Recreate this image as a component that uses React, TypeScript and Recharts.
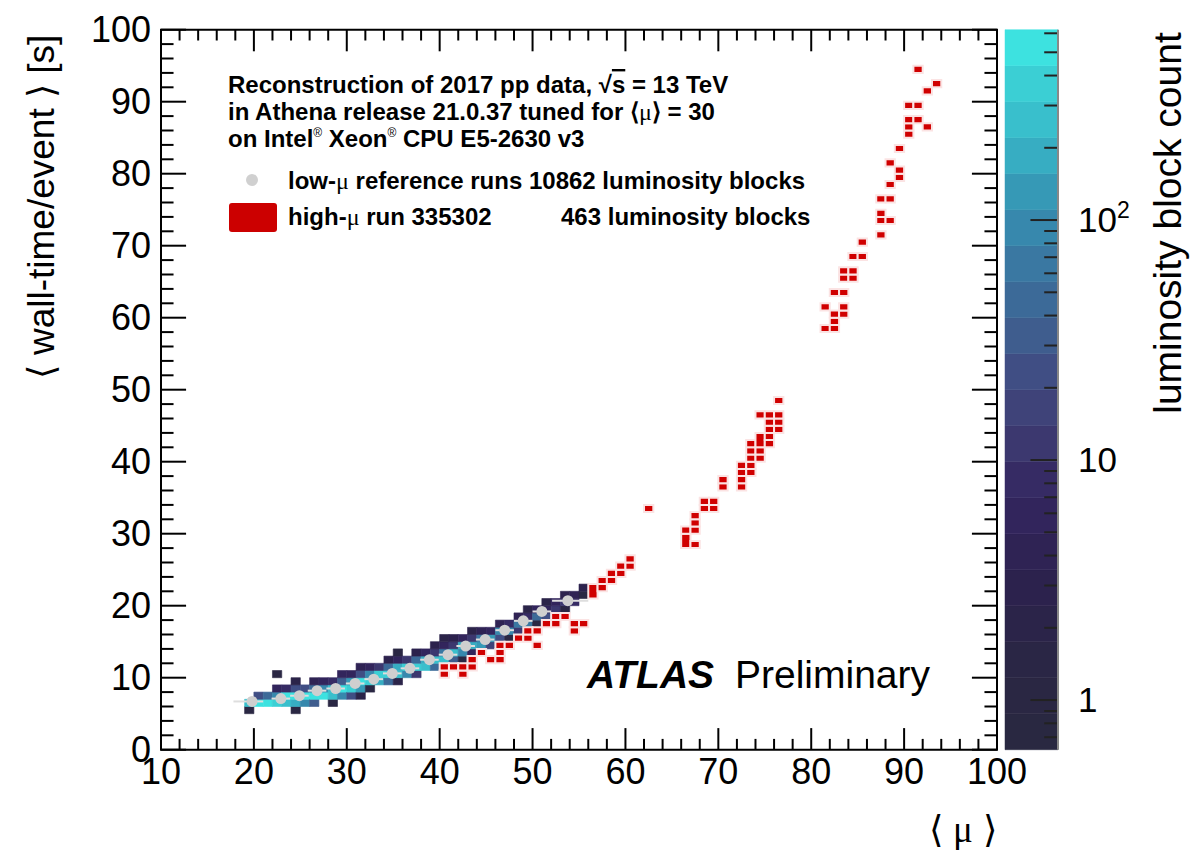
import React from 'react';
import { ComposedChart, Scatter, XAxis, YAxis, ReferenceArea, ReferenceLine, ErrorBar } from 'recharts';

const FONT = '"Liberation Sans", Arial, Helvetica, sans-serif';
const SERIF = '"Liberation Serif", "Times New Roman", serif';
const W = 1194;
const H = 852;

// ---------- axes ----------
const X_TICKS = [10, 20, 30, 40, 50, 60, 70, 80, 90, 100];
const Y_TICKS = [0, 10, 20, 30, 40, 50, 60, 70, 80, 90, 100];
const X_MINOR = [12, 14, 16, 18, 22, 24, 26, 28, 32, 34, 36, 38, 42, 44, 46, 48, 52, 54, 56, 58, 62, 64, 66, 68, 72, 74, 76, 78, 82, 84, 86, 88, 92, 94, 96, 98];
const Y_MINOR = [2, 4, 6, 8, 12, 14, 16, 18, 22, 24, 26, 28, 32, 34, 36, 38, 42, 44, 46, 48, 52, 54, 56, 58, 62, 64, 66, 68, 72, 74, 76, 78, 82, 84, 86, 88, 92, 94, 96, 98];

// ---------- colour axis ----------
const Z_MIN = 0.621;
const Z_MAX = 621;
const Z_TICKS = [1, 10, 100];
const Z_TICK_LABELS = ['1', '10', '10²'];
const Z_MINOR = [0.7, 0.8, 0.9, 2, 3, 4, 5, 6, 7, 8, 9, 20, 30, 40, 50, 60, 70, 80, 90, 200, 300, 400, 500, 600];
// palette bands, bottom (low count) -> top (high count)
const PALETTE = [
  '#292841', '#2a2743', '#2a2645', '#2b2449', '#2c224d', '#2f2354', '#32255c', '#362b64', '#3c386f', '#3f4379',
  '#404e84', '#3f5d8e', '#3c6a98', '#3a78a2', '#3788ad', '#3699b6', '#37adc2', '#39bfcc', '#3bcfd4', '#3de2e0',
];

// ---------- low-mu reference runs: 2D histogram [<mu> bin, time bin, luminosity-block count] ----------
const LOW_MU_CELLS: [number, number, number][] = [
  [19, 5, 1], [19, 6, 300],
  [20, 6, 500], [20, 7, 20],
  [21, 6, 500], [21, 7, 40],
  [22, 6, 400], [22, 7, 80], [22, 8, 6], [22, 10, 1],
  [23, 6, 250], [23, 7, 450], [23, 8, 8],
  [24, 5, 1], [24, 6, 200], [24, 7, 450], [24, 8, 25], [24, 9, 2],
  [25, 6, 80], [25, 7, 500], [25, 8, 20],
  [26, 6, 30], [26, 7, 450], [26, 8, 50], [26, 9, 4],
  [27, 7, 450], [27, 8, 100], [27, 9, 6],
  [28, 6, 1], [28, 7, 250], [28, 8, 250], [28, 9, 8],
  [29, 7, 80], [29, 8, 500], [29, 9, 30], [29, 10, 5],
  [30, 7, 20], [30, 8, 400], [30, 9, 120], [30, 10, 6],
  [31, 7, 2], [31, 8, 150], [31, 9, 450], [31, 10, 25], [31, 11, 4],
  [32, 8, 1], [32, 9, 400], [32, 10, 80], [32, 11, 6],
  [33, 9, 200], [33, 10, 350], [33, 11, 10],
  [34, 9, 40], [34, 10, 400], [34, 11, 40], [34, 12, 3],
  [35, 9, 2], [35, 10, 250], [35, 11, 200], [35, 12, 6], [35, 13, 1],
  [36, 10, 100], [36, 11, 350], [36, 12, 10],
  [37, 10, 12], [37, 11, 400], [37, 12, 40], [37, 13, 3],
  [38, 11, 250], [38, 12, 180], [38, 13, 5],
  [39, 11, 50], [39, 12, 300], [39, 13, 12], [39, 14, 3],
  [40, 12, 250], [40, 13, 70], [40, 14, 6], [40, 15, 2],
  [41, 12, 30], [41, 13, 250], [41, 14, 12], [41, 15, 3],
  [42, 12, 1], [42, 13, 100], [42, 14, 180], [42, 15, 6],
  [43, 13, 5], [43, 14, 200], [43, 15, 10], [43, 16, 2],
  [44, 14, 120], [44, 15, 70], [44, 16, 4],
  [45, 14, 15], [45, 15, 150], [45, 16, 6],
  [46, 15, 25], [46, 16, 90], [46, 17, 4],
  [47, 15, 1], [47, 16, 100], [47, 17, 7],
  [48, 16, 12], [48, 17, 60], [48, 18, 4],
  [49, 16, 1], [49, 17, 70], [49, 18, 8], [49, 19, 2],
  [50, 17, 1], [50, 18, 40], [50, 19, 5],
  [51, 18, 25], [51, 19, 6], [51, 20, 2],
  [52, 19, 12], [52, 20, 5],
  [53, 19, 1], [53, 20, 12], [53, 21, 3],
  [54, 20, 8], [54, 21, 4],
  [55, 21, 1], [55, 22, 3],
];

// ---------- high-mu run 335302: filled bins [<mu> bin, first time bin, number of time bins] ----------
const HIGH_MU_CELLS: [number, number, number][] = [
  [40, 10, 1], [40, 11, 1], [41, 11, 1], [42, 10, 1], [42, 11, 1], [43, 11, 1], [43, 12, 1], [44, 13, 1], [45, 12, 1],
  [46, 12, 1], [46, 13, 1], [46, 14, 1], [47, 14, 1], [48, 15, 1], [49, 15, 1], [49, 16, 1], [50, 14, 1], [50, 16, 1],
  [51, 17, 1], [52, 17, 1], [52, 18, 1], [53, 18, 1], [54, 16, 1], [54, 17, 1], [55, 17, 1],
  [56, 21, 2], [57, 22, 1], [57, 23, 1], [58, 23, 1], [58, 24, 1], [59, 24, 1], [59, 25, 1], [60, 25, 1], [60, 26, 1],
  [62, 33, 1],
  [66, 28, 2], [66, 30, 1], [67, 28, 1], [67, 30, 1], [67, 31, 1], [67, 32, 1],
  [68, 33, 1], [68, 34, 1], [69, 33, 1], [69, 34, 1],
  [70, 36, 1], [70, 37, 1],
  [72, 36, 1], [72, 37, 1], [72, 38, 1], [72, 39, 1],
  [73, 38, 1], [73, 39, 1], [73, 40, 1], [73, 41, 1], [73, 42, 1],
  [74, 40, 1], [74, 41, 1], [74, 42, 2], [74, 46, 1],
  [75, 42, 1], [75, 43, 1], [75, 44, 1], [75, 45, 1], [75, 46, 1],
  [76, 44, 1], [76, 45, 1], [76, 46, 1], [76, 48, 1],
  [81, 58, 1], [81, 61, 1],
  [82, 58, 1], [82, 59, 1], [82, 60, 1], [82, 63, 1],
  [83, 60, 1], [83, 61, 1], [83, 63, 1], [83, 65, 1], [83, 66, 1],
  [84, 65, 1], [84, 66, 1], [84, 68, 1],
  [85, 68, 1], [85, 70, 1],
  [87, 71, 1], [87, 73, 1], [87, 74, 1], [87, 76, 1],
  [88, 73, 1], [88, 76, 1], [88, 78, 1], [88, 81, 1],
  [89, 79, 1], [89, 80, 1], [89, 83, 1],
  [90, 85, 1], [90, 86, 1], [90, 87, 1], [90, 89, 1],
  [91, 87, 1], [91, 89, 1], [91, 94, 1],
  [92, 86, 1], [92, 91, 1],
  [93, 92, 1],
];

// ---------- low-mu profile (mean wall-time per <mu> bin) ----------
const PROFILE_MU = [19.8, 22.9, 24.9, 26.8, 28.8, 30.9, 32.9, 34.9, 36.8, 38.9, 40.9, 42.8, 44.9, 47.0, 49.0, 51.0, 53.8];
const PROFILE_T = [6.7, 7.1, 7.5, 8.2, 8.5, 9.2, 9.8, 10.6, 11.3, 12.5, 13.2, 14.4, 15.3, 16.6, 17.9, 19.2, 20.7];
const PROFILE_ERR_LO = [2.0, 1, 1, 1, 1, 1, 1, 1, 1, 1, 1, 1, 1, 1, 1, 1, 1.7];
const PROFILE_ERR_HI = [1.2, 1, 1, 1, 1, 1, 1, 1, 1, 1, 1, 1, 1, 1, 1, 1, 2.2];

const RED = '#d00000';
const LOG_SPAN = Math.log10(Z_MAX) - Math.log10(Z_MIN);

function colorFor(count: number): string {
  const f = (Math.log10(count) - Math.log10(Z_MIN)) / LOG_SPAN;
  const idx = Math.max(0, Math.min(PALETTE.length - 1, Math.floor(f * PALETTE.length)));
  return PALETTE[idx];
}

const tickFont = { fontSize: 36, fill: '#000', fontFamily: FONT };

function ZTick(props: any) {
  const { x, y, payload } = props;
  const i = Z_TICKS.indexOf(payload.value);
  const label = Z_TICK_LABELS[i] ?? String(payload.value);
  const hasSup = label.endsWith('²');
  return (
    <text x={x} y={y + 12} textAnchor="start" fontSize={35} fontFamily={FONT} fill="#000">
      {hasSup ? (
        <>
          {label.slice(0, -1)}
          <tspan dy={-14} fontSize={23}>2</tspan>
        </>
      ) : label}
    </text>
  );
}

export default function App() {
  const profileData = PROFILE_MU.map((x, i) => ({ x, y: PROFILE_T[i], err: [PROFILE_ERR_LO[i], PROFILE_ERR_HI[i]] }));
  const bandEdges = PALETTE.map((_, i) => [
    Z_MIN * Math.pow(10, (i * LOG_SPAN) / PALETTE.length),
    Z_MIN * Math.pow(10, ((i + 1) * LOG_SPAN) / PALETTE.length),
  ]);
  const xMajLen = 3.0;
  const xMinLen = 1.5;
  const yMajLen = 2.7;
  const yMinLen = 1.35;

  return (
    <div style={{ position: 'absolute', left: 0, top: 0, width: W, height: H, background: '#fff' }}>
      <div style={{ position: 'absolute', left: 0, top: 0 }}>
        <ComposedChart width={W} height={H} margin={{ top: 29.7, right: 197, bottom: 0, left: 0 }}>
          <XAxis
            type="number"
            dataKey="x"
            domain={[10, 100]}
            allowDataOverflow
            ticks={X_TICKS}
            interval={0}
            tickLine={false}
            axisLine={false}
            tickSize={0}
            tickMargin={9}
            height={102.3}
            tick={tickFont}
          />
          <YAxis
            type="number"
            dataKey="y"
            domain={[0, 100]}
            allowDataOverflow
            ticks={Y_TICKS}
            interval={0}
            tickLine={false}
            axisLine={false}
            tickSize={0}
            tickMargin={10}
            width={161}
            tick={tickFont}
          />
          {LOW_MU_CELLS.map(([mu, t, c], i) => (
            <ReferenceArea
              key={`l${i}`}
              x1={mu}
              x2={mu + 1}
              y1={t}
              y2={t + 1}
              fill={colorFor(c)}
              fillOpacity={1}
              stroke={colorFor(c)}
              strokeWidth={0.6}
              ifOverflow="visible"
            />
          ))}
          {HIGH_MU_CELLS.map(([mu, t, n], i) => (
            <ReferenceArea
              key={`h${i}`}
              x1={mu}
              x2={mu + 1}
              y1={t}
              y2={t + n}
              fill={RED}
              fillOpacity={1}
              stroke="#fbe3e3"
              strokeWidth={2}
              ifOverflow="visible"
            />
          ))}
          <Scatter
            data={profileData}
            dataKey="y"
            isAnimationActive={false}
            shape={(p: any) => <circle cx={p.cx} cy={p.cy} r={5.5} fill="#cfcfcf" />}
          >
            <ErrorBar dataKey="err" direction="x" width={0} stroke="#dedede" strokeWidth={2} />
          </Scatter>
          {X_TICKS.concat(X_MINOR).map((v) => {
            const len = v % 10 === 0 ? xMajLen : xMinLen;
            return [
              <ReferenceLine key={`xb${v}`} segment={[{ x: v, y: 0 }, { x: v, y: len }]} stroke="#000" strokeWidth={2} ifOverflow="visible" />,
              <ReferenceLine key={`xt${v}`} segment={[{ x: v, y: 100 }, { x: v, y: 100 - len }]} stroke="#000" strokeWidth={2} ifOverflow="visible" />,
            ];
          })}
          {Y_TICKS.concat(Y_MINOR).map((v) => {
            const len = v % 10 === 0 ? yMajLen : yMinLen;
            return [
              <ReferenceLine key={`yl${v}`} segment={[{ x: 10, y: v }, { x: 10 + len, y: v }]} stroke="#000" strokeWidth={2} ifOverflow="visible" />,
              <ReferenceLine key={`yr${v}`} segment={[{ x: 100, y: v }, { x: 100 - len, y: v }]} stroke="#000" strokeWidth={2} ifOverflow="visible" />,
            ];
          })}
          <ReferenceArea x1={10} x2={100} y1={0} y2={100} fill="none" fillOpacity={0} stroke="#000" strokeWidth={2} ifOverflow="visible" />
        </ComposedChart>
      </div>

      <div style={{ position: 'absolute', left: 0, top: 0 }}>
        <ComposedChart width={W} height={H} data={[{ x: 0.5, y: 1 }]} margin={{ top: 29.7, right: 56, bottom: 102.3, left: 1005 }}>
          <XAxis type="number" dataKey="x" domain={[0, 1]} allowDataOverflow hide />
          <YAxis
            type="number"
            dataKey="y"
            orientation="right"
            scale="log"
            domain={[Z_MIN, Z_MAX]}
            allowDataOverflow
            ticks={Z_TICKS}
            interval={0}
            tickLine={false}
            axisLine={false}
            tickSize={0}
            tickMargin={20}
            width={80}
            tick={<ZTick />}
          />
          {bandEdges.map(([lo, hi], i) => (
            <ReferenceArea key={`b${i}`} x1={0} x2={1} y1={lo} y2={hi} fill={PALETTE[i]} fillOpacity={1} stroke={PALETTE[i]} strokeWidth={0.5} ifOverflow="visible" />
          ))}
          {Z_TICKS.map((v) => (
            <ReferenceLine key={`zM${v}`} segment={[{ x: 1, y: v }, { x: 0.48, y: v }]} stroke="#222" strokeWidth={2} ifOverflow="visible" />
          ))}
          {Z_MINOR.map((v) => (
            <ReferenceLine key={`zm${v}`} segment={[{ x: 1, y: v }, { x: 0.74, y: v }]} stroke="#222" strokeWidth={2} ifOverflow="visible" />
          ))}
          <ReferenceLine segment={[{ x: 1, y: Z_MIN }, { x: 1, y: Z_MAX }]} stroke="#888" strokeWidth={2} ifOverflow="visible" />
        </ComposedChart>
      </div>

      <svg width={W} height={H} style={{ position: 'absolute', left: 0, top: 0, pointerEvents: 'none' }} fontFamily={FONT}>
        <g fontWeight="bold" fontSize={24} fill="#000">
          <text x={228} y={93}>
            Reconstruction of 2017 pp data, √<tspan style={{ textDecoration: 'overline' }}>s</tspan> = 13 TeV
          </text>
          <text x={228} y={120}>
            in Athena release 21.0.37 tuned for ⟨<tspan fontFamily={SERIF} fontWeight="normal">μ</tspan>⟩ = 30
          </text>
          <text x={228} y={147}>
            on Intel<tspan dy={-10} fontSize={12} fontWeight="normal">®</tspan>
            <tspan dy={10}> Xeon</tspan>
            <tspan dy={-10} fontSize={12} fontWeight="normal">®</tspan>
            <tspan dy={10}> CPU E5-2630 v3</tspan>
          </text>
          <circle cx={252} cy={180} r={6} fill="#d0d0d0" />
          <text x={288} y={189}>
            low-<tspan fontFamily={SERIF} fontWeight="normal">μ</tspan> reference runs 10862 luminosity blocks
          </text>
          <rect x={229} y={203} width={48} height={29} rx={3} fill="#cc0000" />
          <text x={288} y={225}>
            high-<tspan fontFamily={SERIF} fontWeight="normal">μ</tspan> run 335302
          </text>
          <text x={561} y={225}>463 luminosity blocks</text>
        </g>
        <text x={587} y={688} fontSize={39} fontWeight="bold" fontStyle="italic" fill="#000">ATLAS</text>
        <text x={735} y={688} fontSize={39} fill="#000">Preliminary</text>
        <text x={54} y={207} fontSize={37} textAnchor="middle" transform="rotate(-90 54 207)" fill="#000">
          ⟨ wall-time/event ⟩ [s]
        </text>
        <text x={997} y={842} fontSize={37} textAnchor="end" fill="#000">
          ⟨ <tspan fontFamily={SERIF}>μ</tspan> ⟩
        </text>
        <text x={1181} y={223} fontSize={39} textAnchor="middle" transform="rotate(-90 1181 223)" fill="#000">
          luminosity block count
        </text>
      </svg>
    </div>
  );
}
